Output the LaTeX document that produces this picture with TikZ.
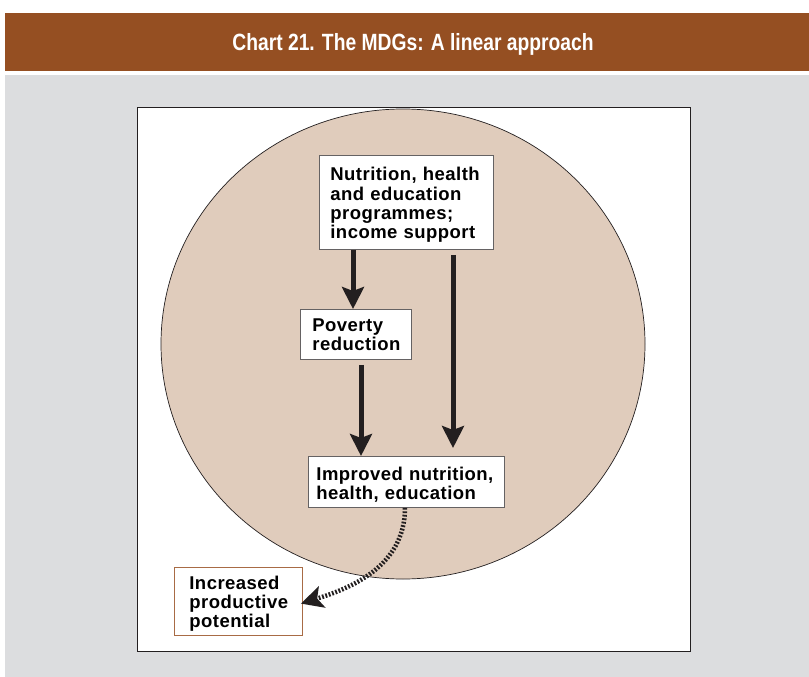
\documentclass[tikz,border=0pt]{standalone}
\usepackage{fontspec}
\setmainfont{Liberation Sans}
\newfontfamily\boxfont[LetterSpace=2.5]{Liberation Sans}
\usetikzlibrary{arrows.meta}
\definecolor{barbrown}{HTML}{954F22}
\definecolor{panelgrey}{HTML}{DCDDDF}
\definecolor{discfill}{HTML}{E0CCBC}
\definecolor{boxbrown}{HTML}{A86B45}
\definecolor{ink}{HTML}{231F20}
% taller first line lowers the text block a little inside its box
\newcommand{\firstline}{\rule{0pt}{18.5pt}}
\tikzset{
  label box/.style={draw=ink!70, line width=0.8pt, fill=white, align=left,
    font=\boxfont\bfseries\fontsize{18.5}{19.2}\selectfont, text=black,
    inner xsep=0pt, inner ysep=0pt, anchor=north west},
  flow/.style={draw=ink, line width=5pt,
    -{Stealth[length=22pt, width=22pt, inset=4pt]}},
  feedback/.style={draw=ink, line width=4.5pt, dash pattern=on 1.8pt off 1.7pt,
    -{Stealth[length=22pt, width=22pt, inset=5pt]}, shorten >=-2pt}
}
\begin{document}
\begin{tikzpicture}[x=1pt, y=-1pt]
  \useasboundingbox (0,0) rectangle (809,677);
  \fill[white] (0,0) rectangle (809,677);
  % title bar and grey panel
  \fill[barbrown] (5,13) rectangle (809,71);
  \fill[panelgrey] (5,75) rectangle (809,677);
  \node[text=white, font=\bfseries\fontsize{23.5}{26}\selectfont, xscale=0.82]
    (title) at (413,44.5) {Chart 21. The MDGs: A linear approach};
  % white chart area
  \draw[fill=white, draw=ink, line width=0.8pt] (137,107) rectangle (690,651);
  % disc
  \draw[fill=discfill, draw=ink, line width=0.7pt] (403,344) ellipse [x radius=242, y radius=235];
  % boxes
  \node[label box, minimum width=174pt, minimum height=94pt, text width=174pt]
    (prog) at (319,155) {\firstline\hspace*{11pt}Nutrition, health\\\hspace*{11pt}and education\\\hspace*{11pt}programmes;\\\hspace*{11pt}income support};
  \node[label box, minimum width=111pt, minimum height=50pt, text width=111pt]
    (pov) at (300,309) {\hspace*{12pt}Poverty\\\hspace*{12pt}reduction};
  \node[label box, minimum width=196pt, minimum height=51pt, text width=196pt]
    (impr) at (308,456) {\firstline\hspace*{8pt}Improved nutrition,\\\hspace*{8pt}health, education};
  \node[label box, draw=boxbrown, minimum width=128pt, minimum height=68pt, text width=128pt]
    (incr) at (174,567) {\firstline\hspace*{15pt}Increased\\\hspace*{15pt}productive\\\hspace*{15pt}potential};
  % anchor points for connectors (yshift is upward on the canvas)
  \coordinate (p1) at ([xshift=34pt]prog.south west);
  \coordinate (p2) at ([xshift=134pt,yshift=-5pt]prog.south west);
  \coordinate (r1) at ([xshift=61pt,yshift=-5pt]pov.south west);
  \coordinate (i1) at ([xshift=53pt]impr.north west);
  \coordinate (i2) at ([xshift=145pt,yshift=8pt]impr.north west);
  \coordinate (i3) at ([xshift=97pt]impr.south west);
  \coordinate (c1) at ([xshift=53pt]pov.north west);
  \coordinate (n1) at ([yshift=-36pt]incr.north east);
  % connectors
  \draw[flow] (p1) -- (c1);
  \draw[flow] (p2) -- (i2);
  \draw[flow] (r1) -- (i1);
  \draw[feedback] (i3) .. controls ([yshift=-60pt]i3) and ([xshift=45pt,yshift=14pt]n1) .. (n1);
\end{tikzpicture}
\end{document}
